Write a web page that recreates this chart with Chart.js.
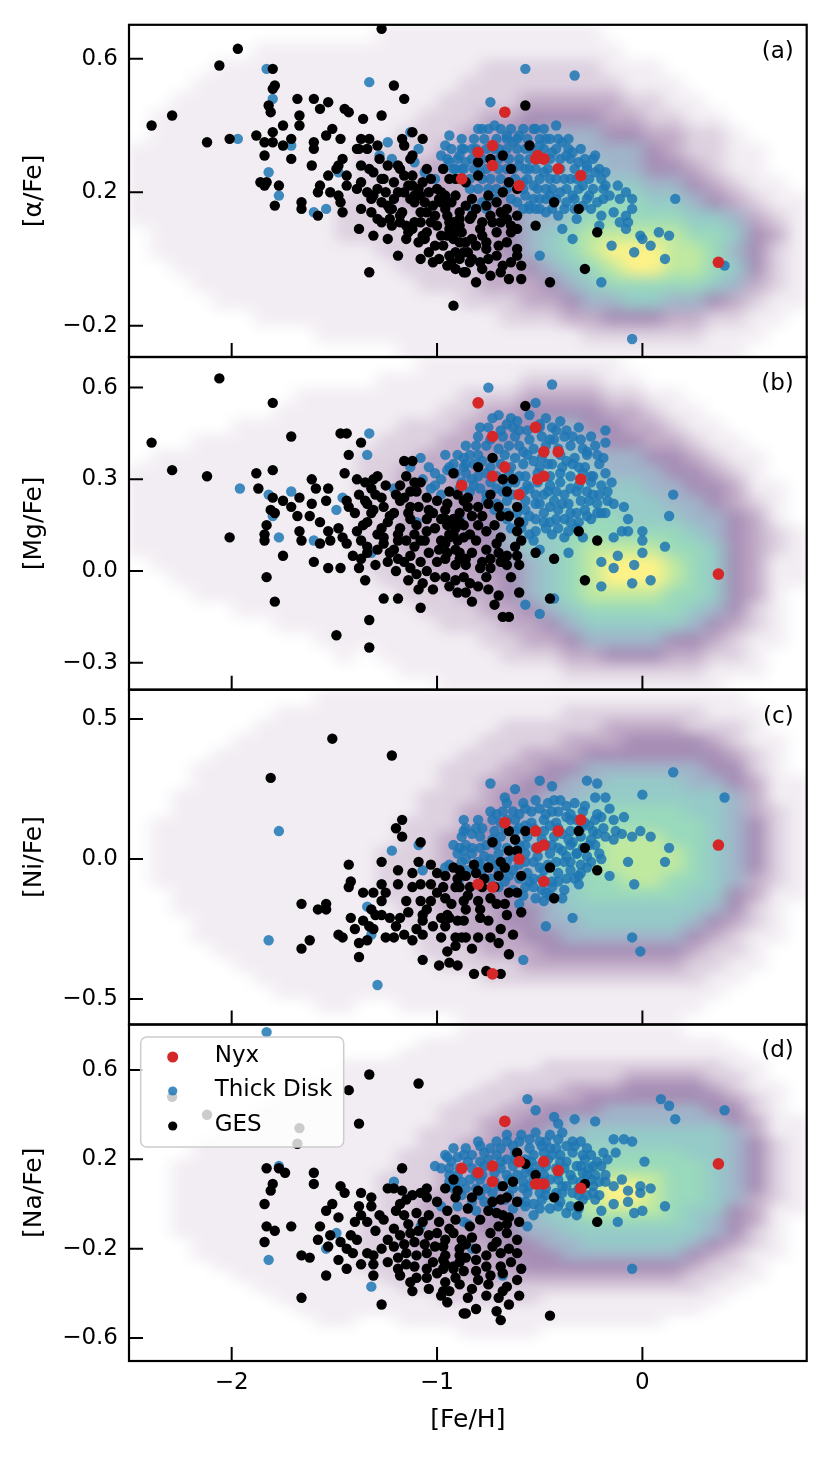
<!DOCTYPE html>
<html>
<head>
<meta charset="utf-8">
<title>Nyx, Thick Disk and GES abundances</title>
<script src="https://cdn.jsdelivr.net/npm/chart.js@4.4.1/dist/chart.umd.min.js"></script>
<style>
html,body{margin:0;padding:0;background:#fff;}
#wrap{position:relative;width:831px;height:1457px;overflow:hidden;}
#wrap canvas{position:absolute;left:0;top:0;}
</style>
</head>
<body>
<div id="wrap">
<canvas id="panelA" width="831" height="1457"></canvas>
<canvas id="panelB" width="831" height="1457"></canvas>
<canvas id="panelC" width="831" height="1457"></canvas>
<canvas id="panelD" width="831" height="1457"></canvas>
</div>
<script>
// ---------------- DATA ----------------
const feHTicks = [-2, -1, 0];
const alphaTicks = [0.6, 0.2, -0.2];
const mgTicks = [0.6, 0.3, 0.0, -0.3];
const niTicks = [0.5, 0.0, -0.5];
const naTicks = [0.6, 0.2, -0.2, -0.6];

const seriesNames = ['Nyx', 'Thick Disk', 'GES'];
const panelTags = ['(a)', '(b)', '(c)', '(d)'];
const yLabels = ['[α/Fe]', '[Mg/Fe]', '[Ni/Fe]', '[Na/Fe]'];

// Nyx stars (same stars in every panel)
const nyxFeH   = [-0.88, -0.80, -0.73, -0.73, -0.67, -0.60, -0.52, -0.51, -0.48, -0.48, -0.41, -0.30, 0.37];
const nyxAlpha = [0.24, 0.32, 0.34, 0.28, 0.44, 0.22, 0.30, 0.31, 0.30, 0.30, 0.27, 0.25, -0.01];
const nyxMg    = [0.28, 0.55, 0.44, 0.31, 0.34, 0.25, 0.47, 0.30, 0.39, 0.31, 0.39, 0.30, -0.01];
const nyxNi    = [null, -0.09, -0.10, -0.41, 0.13, 0.00, 0.10, 0.04, 0.05, -0.08, 0.10, 0.14, 0.05];
const nyxNa    = [0.16, 0.14, 0.17, 0.10, 0.37, 0.19, 0.09, 0.09, 0.19, 0.09, 0.15, 0.07, 0.18];

// GES stars [Fe/H, X/Fe] (isolated stars + stars in the crowded clump)
const gesAlpha = [[-1.27,0.69],[-1.97,0.63],[-2.06,0.58],[-1.80,0.57],[-1.79,0.52],[-1.80,0.51],[-1.82,0.46],[-1.81,0.44],[-2.29,0.43],[-2.39,0.40],[-2.12,0.35],[-2.01,0.36],[-1.88,0.37],[-1.84,0.35],[-1.80,0.35],[-1.80,0.38],[-1.75,0.40],[-1.75,0.34],[-1.71,0.36],[-1.71,0.30],[-1.84,0.31],[-1.68,0.48],[-1.60,0.48],[-1.53,0.47],[-1.57,0.45],[-1.67,0.43],[-1.67,0.40],[-1.51,0.39],[-1.54,0.37],[-1.47,0.36],[-1.45,0.45],[-1.43,0.44],[-1.36,0.42],[-1.27,0.43],[-1.21,0.52],[-1.16,0.48],[-1.12,0.38],[-1.07,0.36],[-1.60,0.35],[-1.60,0.33],[-1.61,0.28],[-1.86,0.23],[-1.84,0.22],[-1.83,0.23],[-1.77,0.22],[-1.79,0.16],[-1.66,0.17],[-1.66,0.15],[-1.58,0.20],[-1.58,0.13],[-1.57,0.22],[-1.53,0.25],[-1.52,0.20],[-1.48,0.19],[-1.48,0.28],[-1.46,0.30],[-1.44,0.25],[-1.44,0.22],[-1.47,0.17],[-1.46,0.14],[-1.37,0.36],[-1.38,0.33],[-1.33,0.36],[-1.29,0.34],[-1.37,0.28],[-1.37,0.23],[-1.33,0.27],[-1.28,0.30],[-1.27,0.24],[-1.24,0.28],[-1.19,0.28],[-1.17,0.36],[-1.16,0.34],[-1.13,0.30],[-1.12,0.31],[-1.12,0.25],[-1.07,0.23],[-1.39,0.21],[-1.34,0.20],[-1.31,0.19],[-1.27,0.17],[-1.21,0.18],[-1.16,0.20],[-1.11,0.17],[-1.08,0.19],[-1.37,0.15],[-1.32,0.14],[-1.29,0.12],[-1.27,0.11],[-1.23,0.15],[-1.18,0.13],[-1.15,0.10],[-1.11,0.11],[-1.08,0.11],[-1.05,0.14],[-1.02,0.16],[-0.98,0.17],[-0.95,0.13],[-0.92,0.11],[-0.89,0.14],[-0.89,0.10],[-0.95,0.07],[-0.92,0.06],[-0.88,0.08],[-1.38,0.09],[-1.31,0.07],[-1.24,0.06],[-1.09,0.05],[-1.19,0.01],[-1.08,0.00],[-1.02,-0.01],[-0.94,0.01],[-0.93,-0.01],[-0.91,0.02],[-0.87,0.02],[-0.87,-0.04],[-1.33,-0.04],[-0.92,-0.14],[-1.03,0.24],[-0.98,0.20],[-1.49,0.27],[-1.39,0.33],[-1.34,0.33],[-1.18,0.27],[-0.57,0.46],[-0.55,0.34],[-0.68,0.31],[-0.64,0.27],[-0.80,0.29],[-0.74,0.30],[-0.80,0.25],[-0.91,0.24],[-0.86,0.23],[-0.65,0.23],[-0.61,0.21],[-0.68,0.20],[-0.75,0.19],[-0.83,0.18],[-0.43,0.17],[-0.31,0.15],[-0.69,0.14],[-0.66,0.12],[-0.61,0.13],[-0.52,0.10],[-0.73,0.11],[-0.78,0.07],[-0.71,0.08],[-0.64,0.08],[-0.22,0.08],[-0.83,0.06],[-0.89,0.05],[-0.85,0.02],[-0.76,0.03],[-0.70,0.04],[-0.61,0.03],[-0.83,0.00],[-0.75,0.00],[-0.68,-0.02],[-0.61,0.01],[-0.78,-0.03],[-0.86,-0.04],[-0.81,-0.07],[-0.65,-0.06],[-0.59,-0.06],[-0.45,-0.07],[-0.28,-0.03],[-0.96,0.15],[-0.94,0.11],[-0.83,0.13],[-0.78,0.11],[-1.00,0.21],[-0.96,0.19],[-1.05,0.08],[-1.00,0.10],[-0.94,0.24],[-1.15,0.06],[-1.22,0.10],[-1.25,0.20],[-1.12,0.22],[-1.05,0.27],[-0.97,0.27],[-0.93,0.17]];
const gesAlphaClump = [[-1.31,0.26],[-1.29,0.21],[-1.32,0.18],[-1.26,0.24],[-1.24,0.16],[-1.23,0.12],[-1.21,0.23],[-1.19,0.20],[-1.22,0.15],[-1.18,0.11],[-1.16,0.25],[-1.14,0.22],[-1.13,0.18],[-1.17,0.14],[-1.14,0.08],[-1.09,0.21],[-1.11,0.19],[-1.08,0.14],[-1.12,0.09],[-1.07,0.07],[-1.04,0.20],[-1.06,0.17],[-1.03,0.11],[-1.06,0.06],[-1.04,0.02],[-0.99,0.18],[-1.01,0.13],[-0.98,0.07],[-1.01,0.04],[-0.99,0.00],[-0.96,0.17],[-0.94,0.09],[-0.97,0.04],[-0.95,-0.02],[-0.91,0.19],[-0.89,0.12],[-0.91,0.08],[-0.89,0.00],[-0.91,-0.03],[-0.86,0.16],[-0.84,0.12],[-0.86,0.05],[-0.84,-0.01],[-0.81,0.15],[-0.79,0.09],[-0.81,0.04],[-0.79,-0.01],[-0.76,0.16],[-0.74,0.13],[-0.76,0.05],[-0.74,-0.05],[-0.71,0.17],[-0.69,0.11],[-0.71,0.01],[-0.69,-0.04],[-0.66,0.15],[-0.64,0.10],[-0.66,0.05],[-0.64,-0.01],[-0.61,0.09],[-0.59,-0.02]];
const gesMg = [[-2.06,0.63],[-1.80,0.55],[-2.39,0.42],[-2.29,0.33],[-2.12,0.31],[-1.71,0.44],[-1.88,0.32],[-1.80,0.33],[-1.87,0.27],[-1.47,0.45],[-1.44,0.45],[-1.37,0.42],[-1.43,0.38],[-1.45,0.32],[-1.61,0.30],[-1.59,0.27],[-1.53,0.27],[-1.54,0.23],[-1.61,0.22],[-1.67,0.24],[-1.71,0.21],[-1.75,0.23],[-1.80,0.24],[-1.81,0.20],[-1.79,0.19],[-1.68,0.18],[-1.62,0.18],[-1.83,0.15],[-1.84,0.12],[-1.84,0.10],[-2.01,0.11],[-1.67,0.13],[-1.66,0.10],[-1.75,0.05],[-1.83,-0.02],[-1.79,-0.10],[-1.60,0.03],[-1.53,0.01],[-1.47,0.01],[-1.49,-0.21],[-1.33,-0.16],[-1.33,-0.25],[-1.35,-0.03],[-1.26,-0.09],[-1.19,-0.09],[-1.08,-0.12],[-1.02,-0.06],[-1.07,-0.04],[-0.91,-0.03],[-0.96,-0.02],[-0.90,-0.07],[-1.57,0.16],[-1.53,0.13],[-1.52,0.10],[-1.57,0.09],[-1.48,0.14],[-1.46,0.11],[-1.44,0.09],[-1.39,0.13],[-1.37,0.10],[-1.34,0.06],[-1.37,0.04],[-1.38,0.01],[-1.34,0.16],[-1.32,0.19],[-1.34,0.22],[-1.38,0.25],[-1.39,0.30],[-1.35,0.29],[-1.32,0.27],[-1.31,0.30],[-1.29,0.31],[-1.43,0.21],[-1.44,0.23],[-1.27,0.24],[-1.26,0.21],[-1.23,0.18],[-1.27,0.14],[-1.26,0.11],[-1.29,0.07],[-1.23,0.06],[-1.19,0.10],[-1.18,0.14],[-1.18,0.23],[-1.13,0.21],[-1.18,0.28],[-1.13,0.26],[-1.11,0.29],[-1.08,0.29],[-1.16,0.36],[-1.12,0.36],[-1.13,0.17],[-1.10,0.15],[-1.11,0.12],[-1.08,0.10],[-1.05,0.13],[-1.05,0.17],[-1.02,0.19],[-0.98,0.17],[-0.95,0.15],[-0.92,0.12],[-0.89,0.16],[-0.98,0.10],[-0.95,0.06],[-0.89,0.06],[-1.13,0.05],[-1.08,0.03],[-1.13,0.01],[-1.19,0.04],[-1.00,0.03],[-0.91,0.02],[-0.94,0.26],[-0.92,0.32],[-0.87,0.23],[-0.57,0.54],[-0.73,0.37],[-0.80,0.34],[-0.68,0.30],[-0.63,0.30],[-0.85,0.24],[-0.74,0.25],[-0.66,0.26],[-0.80,0.21],[-0.61,0.21],[-0.96,0.20],[-0.92,0.17],[-0.83,0.18],[-0.78,0.18],[-0.69,0.18],[-0.72,0.15],[-0.61,0.13],[-0.87,0.15],[-0.94,0.12],[-0.87,0.11],[-0.69,0.11],[-0.59,0.10],[-0.91,0.07],[-0.83,0.06],[-0.76,0.07],[-0.70,0.06],[-0.62,0.08],[-0.96,0.09],[-0.86,0.02],[-0.78,0.03],[-0.74,0.01],[-0.66,0.02],[-0.60,0.02],[-0.52,0.06],[-0.43,0.04],[-0.31,0.13],[-0.22,0.10],[-0.28,-0.03],[-0.45,-0.09],[-0.60,-0.07],[-0.86,-0.07],[-0.76,-0.02],[-0.83,-0.10],[-0.72,-0.11],[-0.68,-0.15],[-0.65,-0.15],[-0.87,-0.02]];
const gesMgClump = [[-1.40,0.19],[-1.41,0.05],[-1.35,0.23],[-1.36,0.15],[-1.34,0.08],[-1.30,0.25],[-1.31,0.20],[-1.29,0.12],[-1.30,0.02],[-1.25,0.28],[-1.24,0.16],[-1.26,0.09],[-1.24,0.03],[-1.20,0.25],[-1.21,0.19],[-1.19,0.12],[-1.21,0.07],[-1.20,0.00],[-1.15,0.31],[-1.16,0.24],[-1.14,0.19],[-1.15,0.10],[-1.16,0.03],[-1.14,-0.03],[-1.10,0.26],[-1.09,0.21],[-1.11,0.08],[-1.10,-0.01],[-1.09,-0.06],[-1.05,0.24],[-1.04,0.20],[-1.06,0.10],[-1.04,0.06],[-1.05,0.00],[-1.00,0.23],[-1.01,0.14],[-0.99,0.07],[-1.01,-0.02],[-0.95,0.22],[-0.96,0.17],[-0.94,0.11],[-0.96,0.04],[-0.94,-0.05],[-0.90,0.25],[-0.89,0.19],[-0.91,0.14],[-0.90,0.10],[-0.89,0.04],[-0.85,0.21],[-0.84,0.12],[-0.86,0.04],[-0.84,-0.04],[-0.80,0.15],[-0.81,0.10],[-0.79,0.01],[-0.80,-0.05],[-0.75,0.22],[-0.76,0.13],[-0.74,0.04],[-0.75,-0.06],[-0.70,0.21],[-0.71,0.09],[-0.69,0.03],[-0.70,-0.08],[-0.65,0.18],[-0.66,0.05],[-0.64,-0.02],[-0.60,0.16],[-0.61,0.05]];
const gesNi = [[-1.51,0.43],[-1.22,0.37],[-1.81,0.29],[-1.17,0.14],[-1.20,0.11],[-1.17,0.08],[-1.08,0.06],[-1.09,-0.01],[-1.03,-0.02],[-1.27,-0.01],[-1.43,-0.02],[-1.42,-0.08],[-1.43,-0.10],[-1.31,-0.12],[-1.27,-0.09],[-1.19,-0.04],[-1.19,-0.09],[-1.27,-0.15],[-1.12,-0.10],[-1.08,-0.09],[-1.03,-0.09],[-1.00,-0.12],[-0.96,-0.14],[-0.96,-0.06],[-0.92,-0.03],[-0.89,-0.04],[-0.89,-0.10],[-0.87,-0.15],[-1.08,-0.15],[-1.03,-0.15],[-1.66,-0.16],[-1.58,-0.18],[-1.54,-0.16],[-1.54,-0.18],[-1.42,-0.21],[-1.36,-0.22],[-1.33,-0.24],[-1.31,-0.25],[-1.34,-0.29],[-1.38,-0.30],[-1.27,-0.20],[-1.23,-0.21],[-1.18,-0.21],[-1.14,-0.19],[-1.07,-0.20],[-1.07,-0.22],[-0.98,-0.21],[-0.96,-0.24],[-0.90,-0.22],[-0.95,-0.20],[-1.10,-0.25],[-1.16,-0.27],[-1.21,-0.28],[-1.25,-0.28],[-1.12,-0.29],[-1.07,-0.27],[-0.88,-0.28],[-0.91,-0.31],[-1.48,-0.27],[-1.46,-0.28],[-1.62,-0.29],[-1.66,-0.32],[-1.38,-0.35],[-1.07,-0.36],[-0.99,-0.38],[-0.94,-0.37],[-0.90,-0.38],[-1.32,-0.18],[-0.65,0.10],[-0.57,0.10],[-0.31,0.10],[-0.28,0.04],[-0.22,-0.04],[-0.45,-0.03],[-0.73,0.06],[-0.62,0.07],[-0.65,0.03],[-0.61,0.03],[-0.69,-0.01],[-0.67,-0.03],[-0.59,-0.06],[-0.75,-0.03],[-0.81,-0.05],[-0.86,-0.06],[-0.70,-0.06],[-0.84,-0.10],[-0.78,-0.10],[-0.65,-0.12],[-0.61,-0.12],[-0.43,-0.14],[-0.74,-0.14],[-0.71,-0.16],[-0.67,-0.16],[-0.59,-0.19],[-0.91,-0.10],[-0.86,-0.18],[-0.79,-0.18],[-0.94,-0.21],[-0.87,-0.22],[-0.79,-0.21],[-0.69,-0.25],[-0.91,-0.28],[-0.86,-0.28],[-0.80,-0.28],[-0.74,-0.28],[-0.83,-0.32],[-0.65,-0.34],[-0.82,-0.41],[-0.76,-0.40],[-0.69,-0.41]];
const gesNiClump = [[-1.00,-0.05],[-0.97,-0.10],[-0.93,-0.16],[-0.90,-0.07],[-0.85,-0.13],[-0.82,-0.02],[-0.80,-0.15],[-0.77,-0.07],[-0.75,-0.22],[-0.72,-0.10],[-0.70,-0.30],[-0.66,-0.20],[-0.63,-0.27],[-0.98,-0.28],[-0.95,-0.33],[-1.02,-0.24],[-1.15,-0.15],[-1.20,-0.24],[-1.25,-0.12],[-1.12,-0.05],[-1.05,-0.18],[-1.30,-0.20],[-1.36,-0.12],[-1.40,-0.25]];
const gesNa = [[-2.29,0.48],[-2.12,0.40],[-1.67,0.34],[-1.68,0.27],[-1.33,0.58],[-1.09,0.54],[-1.43,0.51],[-1.38,0.36],[-1.83,0.16],[-1.77,0.16],[-1.74,0.14],[-1.60,0.14],[-1.60,0.09],[-1.80,0.09],[-1.81,0.06],[-1.84,0.00],[-1.83,-0.10],[-1.79,-0.12],[-1.71,-0.10],[-1.84,-0.17],[-1.66,-0.23],[-1.62,-0.24],[-1.66,-0.42],[-1.27,-0.45],[-1.54,-0.32],[-1.53,-0.19],[-1.58,-0.16],[-1.57,-0.10],[-1.54,-0.03],[-1.51,0.00],[-1.48,-0.06],[-1.47,0.08],[-1.45,0.05],[-1.37,0.05],[-1.32,0.03],[-1.32,-0.01],[-1.38,-0.01],[-1.37,-0.05],[-1.34,-0.08],[-1.28,-0.05],[-1.26,-0.07],[-1.24,0.07],[-1.21,0.07],[-1.17,0.06],[-1.17,0.16],[-1.18,0.00],[-1.16,-0.05],[-1.12,0.04],[-1.08,0.05],[-1.05,0.03],[-1.07,-0.08],[-1.04,-0.14],[-1.00,-0.13],[-0.96,-0.16],[-0.92,-0.13],[-0.96,0.07],[-0.92,0.11],[-0.91,0.03],[-0.91,-0.07],[-0.88,-0.16],[-1.52,-0.14],[-1.47,-0.17],[-1.44,-0.20],[-1.39,-0.16],[-1.34,-0.22],[-1.31,-0.23],[-1.27,-0.20],[-1.24,-0.16],[-1.21,-0.11],[-1.18,-0.14],[-1.13,-0.13],[-1.11,-0.17],[-1.15,-0.22],[-1.10,-0.23],[-1.05,-0.22],[-1.02,-0.26],[-0.97,-0.25],[-0.92,-0.29],[-0.89,-0.26],[-1.19,-0.29],[-1.24,-0.26],[-1.18,-0.32],[-1.13,-0.35],[-1.10,-0.33],[-1.12,-0.39],[-1.05,-0.33],[-0.98,-0.41],[-0.94,-0.39],[-0.87,-0.49],[-1.44,-0.29],[-1.37,-0.27],[-1.31,-0.32],[-1.48,-0.25],[-1.42,-0.14],[-0.61,0.23],[-0.59,0.19],[-0.52,0.13],[-0.68,0.08],[-0.63,0.10],[-0.43,0.03],[-0.28,0.09],[-0.31,-0.01],[-0.22,-0.08],[-0.83,0.03],[-0.73,0.01],[-0.69,0.02],[-0.66,0.03],[-0.61,0.01],[-0.71,-0.04],[-0.68,-0.05],[-0.65,-0.06],[-0.66,-0.09],[-0.66,-0.13],[-0.61,-0.16],[-0.83,-0.15],[-0.86,-0.18],[-0.73,-0.19],[-0.69,-0.22],[-0.97,-0.19],[-0.96,-0.23],[-0.89,-0.23],[-0.81,-0.25],[-0.76,-0.28],[-0.92,-0.28],[-0.97,-0.29],[-0.87,-0.30],[-0.81,-0.30],[-0.74,-0.32],[-0.68,-0.31],[-0.61,-0.34],[-0.96,-0.35],[-0.89,-0.36],[-0.83,-0.38],[-0.76,-0.41],[-0.70,-0.42],[-0.68,-0.39],[-0.60,-0.41],[-0.65,-0.45],[-0.97,-0.39],[-0.81,-0.47],[-0.86,-0.49],[-0.71,-0.48],[-0.69,-0.52],[-0.45,-0.50],[-0.57,0.18]];
const gesNaClump = [[-1.20,-0.03],[-1.21,-0.19],[-1.19,-0.24],[-1.15,0.02],[-1.14,-0.09],[-1.16,-0.18],[-1.15,-0.27],[-1.10,-0.04],[-1.09,-0.12],[-1.11,-0.28],[-1.05,0.07],[-1.04,-0.05],[-1.06,-0.18],[-1.05,-0.29],[-1.04,-0.38],[-1.00,0.01],[-0.99,-0.08],[-1.01,-0.19],[-1.00,-0.31],[-0.95,-0.03],[-0.94,-0.11],[-0.96,-0.27],[-0.95,-0.44],[-0.90,0.06],[-0.89,-0.20],[-0.91,-0.33],[-0.85,-0.02],[-0.84,-0.10],[-0.86,-0.24],[-0.85,-0.42],[-0.80,0.06],[-0.79,-0.07],[-0.81,-0.20],[-0.80,-0.34],[-0.75,-0.03],[-0.74,-0.13],[-0.76,-0.23],[-0.75,-0.36],[-0.70,-0.10],[-0.71,-0.17],[-0.69,-0.28],[-0.65,-0.20],[-0.64,-0.26],[-0.66,-0.37],[-0.60,-0.08],[-0.61,-0.22],[-0.59,-0.29],[-1.30,-0.12],[-1.31,-0.27],[-1.40,-0.08],[-1.41,-0.22]];

// Thick Disk stars [Fe/H, X/Fe] (isolated stars + stars in the crowded clump)
const diskAlpha = [[-1.83,0.57],[-1.33,0.53],[-1.80,0.48],[-1.97,0.36],[-1.71,0.34],[-1.82,0.26],[-1.77,0.19],[-1.60,0.14],[-1.54,0.15],[-1.34,0.33],[-1.28,0.31],[-1.24,0.35],[-1.22,0.30],[-1.13,0.38],[-1.09,0.33],[-1.11,0.29],[-1.06,0.26],[-1.01,0.24],[-0.98,0.31],[-0.94,0.37],[-0.96,0.34],[-0.94,0.29],[-0.91,0.27],[-0.87,0.33],[-0.87,0.27],[-1.48,0.26],[-0.57,0.57],[-0.33,0.55],[-0.74,0.47],[-0.42,0.40],[-0.78,0.39],[-0.72,0.40],[-0.66,0.37],[-0.60,0.37],[-0.52,0.39],[-0.47,0.36],[-0.39,0.35],[-0.34,0.32],[-0.23,0.31],[-0.27,0.28],[-0.23,0.26],[-0.18,0.22],[-0.16,0.19],[-0.11,0.18],[-0.05,0.18],[0.16,0.18],[-0.14,0.14],[-0.08,0.13],[-0.07,0.11],[-0.20,0.13],[-0.21,0.10],[-0.32,0.12],[-0.39,0.09],[-0.34,0.06],[-0.41,0.13],[-0.50,0.15],[-0.55,0.16],[-0.78,0.17],[-0.83,0.15],[-0.01,0.07],[0.00,0.06],[0.08,0.08],[0.13,0.07],[0.04,0.04],[-0.15,0.04],[-0.04,0.02],[0.11,0.00],[-0.50,0.01],[-0.20,-0.07],[-0.05,-0.24],[0.40,-0.02],[-0.70,0.33],[-0.63,0.35],[-0.57,0.33],[-0.50,0.34],[-0.44,0.32],[-0.37,0.31],[-0.31,0.29],[-0.66,0.27],[-0.60,0.28],[-0.55,0.27],[-0.48,0.26],[-0.42,0.24],[-0.35,0.24],[-0.29,0.22],[-0.58,0.23],[-0.53,0.22],[-0.47,0.21],[-0.40,0.20],[-0.34,0.19],[-0.26,0.19],[-0.57,0.19],[-0.50,0.18],[-0.45,0.19],[-0.37,0.17],[-0.29,0.16],[-0.22,0.17],[-0.61,0.17],[-0.55,0.15],[-0.47,0.14],[-0.79,0.26],[-0.86,0.29],[-0.89,0.31],[-0.83,0.33],[-0.74,0.24],[-0.71,0.21],[-0.84,0.21],[-0.92,0.27],[-0.76,0.15],[-0.05,0.15],[-0.11,0.11],[-0.08,0.09]];
const diskAlphaClump = [[-0.80,0.39],[-0.75,0.39],[-0.69,0.39],[-0.64,0.39],[-0.58,0.39],[-0.53,0.39],[-0.48,0.39],[-0.88,0.36],[-0.82,0.36],[-0.77,0.36],[-0.71,0.36],[-0.66,0.36],[-0.61,0.36],[-0.56,0.36],[-0.50,0.36],[-0.45,0.36],[-0.41,0.36],[-0.36,0.36],[-0.93,0.33],[-0.88,0.33],[-0.81,0.33],[-0.76,0.33],[-0.72,0.33],[-0.66,0.33],[-0.61,0.33],[-0.54,0.33],[-0.48,0.33],[-0.42,0.33],[-0.36,0.33],[-0.30,0.33],[-0.95,0.30],[-0.90,0.30],[-0.83,0.30],[-0.78,0.30],[-0.70,0.30],[-0.65,0.30],[-0.60,0.30],[-0.55,0.30],[-0.50,0.30],[-0.45,0.30],[-0.40,0.30],[-0.35,0.30],[-0.28,0.30],[-0.24,0.30],[-0.97,0.27],[-0.88,0.27],[-0.82,0.27],[-0.76,0.27],[-0.70,0.27],[-0.63,0.27],[-0.57,0.27],[-0.52,0.27],[-0.46,0.27],[-0.40,0.27],[-0.33,0.27],[-0.27,0.27],[-0.21,0.27],[-0.90,0.24],[-0.84,0.24],[-0.78,0.24],[-0.69,0.24],[-0.62,0.24],[-0.56,0.24],[-0.50,0.24],[-0.45,0.24],[-0.38,0.24],[-0.32,0.24],[-0.26,0.24],[-0.20,0.24],[-0.80,0.21],[-0.75,0.21],[-0.66,0.21],[-0.58,0.21],[-0.51,0.21],[-0.44,0.21],[-0.37,0.21],[-0.31,0.21],[-0.24,0.21],[-0.19,0.21],[-0.72,0.18],[-0.64,0.18],[-0.53,0.18],[-0.47,0.18],[-0.42,0.18],[-0.33,0.18],[-0.27,0.18],[-0.19,0.18],[-0.58,0.15],[-0.52,0.15],[-0.44,0.15],[-0.38,0.15],[-0.33,0.15],[-0.25,0.15],[-0.18,0.26],[-0.12,0.22],[-0.08,0.20]];
const diskMg = [[-1.33,0.45],[-1.34,0.38],[-1.96,0.27],[-1.82,0.25],[-1.71,0.26],[-1.80,0.18],[-1.77,0.11],[-1.60,0.10],[-1.49,0.20],[-1.46,0.24],[-1.32,0.06],[-1.21,0.27],[-1.13,0.34],[-1.07,0.30],[-1.01,0.32],[-1.01,0.28],[-0.98,0.25],[-0.96,0.38],[-0.94,0.34],[-0.87,0.37],[-0.87,0.34],[-0.89,0.17],[-1.10,0.16],[-0.75,0.60],[-0.44,0.61],[-0.52,0.55],[-0.18,0.46],[-0.18,0.42],[0.15,0.25],[0.13,0.18],[0.11,0.08],[0.04,-0.03],[-0.05,-0.04],[-0.20,-0.05],[-0.04,0.02],[-0.14,0.01],[-0.20,0.03],[-0.12,0.05],[0.00,0.06],[0.00,0.10],[0.00,0.13],[-0.07,0.13],[-0.14,0.11],[-0.10,0.13],[-0.07,0.17],[-0.09,0.21],[-0.18,0.19],[-0.14,0.22],[-0.29,0.11],[-0.36,0.06],[-0.43,-0.09],[-0.57,-0.11],[-0.50,-0.14],[-0.22,0.19],[-0.27,0.18],[-0.32,0.14],[-0.41,0.14],[-0.38,0.11],[-0.50,0.07],[-0.53,0.10],[-0.58,0.16],[-0.79,0.47],[-0.66,0.48],[-0.60,0.46],[-0.45,0.43],[-0.34,0.44],[-0.27,0.39],[-0.22,0.38],[-0.65,0.41],[-0.58,0.39],[-0.53,0.36],[-0.44,0.35],[-0.37,0.36],[-0.31,0.34],[-0.24,0.31],[-0.84,0.38],[-0.86,0.35],[-0.78,0.36],[-0.60,0.31],[-0.55,0.27],[-0.48,0.25],[-0.42,0.26],[-0.35,0.27],[-0.27,0.26],[-0.21,0.25],[-0.52,0.22],[-0.45,0.21],[-0.39,0.22],[-0.32,0.19],[-0.55,0.18],[-0.48,0.16],[-0.42,0.17],[-0.35,0.16],[-0.66,0.23],[-0.71,0.27],[-0.79,0.27],[-0.83,0.30],[-0.89,0.27],[-0.81,0.41],[-0.73,0.50],[-0.61,0.49],[-0.50,0.48],[-0.42,0.46],[-0.64,0.14],[-0.55,0.12],[-0.61,0.19],[-0.26,0.23]];
const diskMgClump = [[-0.70,0.51],[-0.64,0.50],[-0.55,0.51],[-0.47,0.50],[-0.40,0.49],[-0.75,0.47],[-0.69,0.46],[-0.63,0.47],[-0.56,0.46],[-0.50,0.47],[-0.44,0.47],[-0.37,0.46],[-0.31,0.47],[-0.80,0.44],[-0.74,0.43],[-0.68,0.44],[-0.62,0.44],[-0.55,0.43],[-0.49,0.44],[-0.43,0.43],[-0.38,0.44],[-0.30,0.43],[-0.25,0.44],[-0.86,0.41],[-0.76,0.41],[-0.70,0.40],[-0.60,0.41],[-0.53,0.40],[-0.47,0.41],[-0.41,0.40],[-0.35,0.41],[-0.29,0.40],[-0.23,0.41],[-0.90,0.38],[-0.80,0.38],[-0.73,0.37],[-0.67,0.38],[-0.62,0.37],[-0.56,0.38],[-0.49,0.37],[-0.40,0.38],[-0.33,0.37],[-0.27,0.38],[-0.19,0.37],[-0.92,0.35],[-0.82,0.35],[-0.74,0.34],[-0.69,0.35],[-0.64,0.34],[-0.58,0.35],[-0.50,0.34],[-0.46,0.35],[-0.39,0.34],[-0.34,0.35],[-0.28,0.34],[-0.21,0.35],[-0.91,0.32],[-0.86,0.32],[-0.80,0.31],[-0.76,0.32],[-0.71,0.31],[-0.65,0.32],[-0.57,0.31],[-0.51,0.32],[-0.45,0.31],[-0.40,0.32],[-0.35,0.31],[-0.29,0.32],[-0.25,0.31],[-0.18,0.32],[-0.88,0.29],[-0.82,0.28],[-0.74,0.29],[-0.66,0.28],[-0.62,0.29],[-0.56,0.28],[-0.51,0.29],[-0.45,0.28],[-0.40,0.29],[-0.31,0.28],[-0.25,0.29],[-0.20,0.28],[-0.15,0.29],[-0.84,0.26],[-0.76,0.25],[-0.68,0.26],[-0.63,0.25],[-0.58,0.26],[-0.52,0.25],[-0.46,0.26],[-0.38,0.25],[-0.32,0.26],[-0.24,0.25],[-0.17,0.26],[-0.76,0.23],[-0.71,0.22],[-0.57,0.23],[-0.50,0.22],[-0.43,0.23],[-0.36,0.22],[-0.30,0.23],[-0.22,0.22],[-0.17,0.23],[-0.72,0.20],[-0.66,0.19],[-0.57,0.20],[-0.48,0.19],[-0.41,0.20],[-0.35,0.19],[-0.28,0.20],[-0.20,0.19],[-0.66,0.17],[-0.60,0.16],[-0.52,0.17],[-0.45,0.16],[-0.38,0.17],[-0.31,0.16],[-0.25,0.17],[-0.59,0.14],[-0.52,0.13],[-0.47,0.14],[-0.44,0.12],[-0.36,0.13],[-1.08,0.37],[-1.04,0.34],[-0.98,0.30],[-1.03,0.27],[-0.95,0.33]];
const diskNi = [[-1.77,0.10],[-1.82,-0.29],[-1.29,-0.45],[-1.22,0.03],[-1.34,-0.17],[-1.07,-0.04],[-1.09,0.05],[-0.96,-0.03],[-0.87,0.14],[-0.87,0.10],[-0.87,0.03],[-0.89,-0.07],[-1.32,-0.27],[-0.74,0.27],[-0.50,0.28],[-0.27,0.28],[-0.22,0.27],[-0.44,0.26],[-0.62,0.25],[0.15,0.31],[0.40,0.22],[0.00,0.23],[-0.23,0.22],[-0.18,0.22],[-0.67,0.22],[-0.43,0.21],[-0.37,0.19],[-0.28,0.19],[-0.16,0.18],[-0.09,0.15],[-0.20,0.15],[-0.14,0.14],[-0.13,0.10],[-0.10,0.09],[-0.01,0.10],[0.04,0.08],[-0.05,0.08],[-0.14,0.07],[0.13,0.04],[-0.07,-0.01],[0.11,-0.01],[-0.04,-0.09],[-0.16,-0.06],[-0.31,-0.09],[-0.27,-0.03],[-0.20,0.00],[-0.34,-0.21],[-0.47,-0.24],[-0.58,-0.36],[-0.05,-0.28],[-0.01,-0.33],[-0.60,-0.16],[-0.48,-0.15],[-0.83,0.09],[-0.78,0.11],[-0.71,0.16],[-0.63,0.17],[-0.57,0.18],[-0.50,0.18],[-0.44,0.17],[-0.37,0.15],[-0.32,0.14],[-0.26,0.12],[-0.22,0.09],[-0.83,0.04],[-0.76,0.05],[-0.57,0.12],[-0.45,0.12],[-0.39,0.09],[-0.34,0.06],[-0.26,0.05],[-0.57,0.05],[-0.44,0.05],[-0.39,0.03],[-0.32,0.02],[-0.57,-0.01],[-0.50,-0.03],[-0.42,-0.01],[-0.35,-0.01],[-0.53,-0.07],[-0.44,-0.08],[-0.37,-0.07],[-0.31,-0.06],[-0.74,0.00],[-0.86,0.00],[-0.65,-0.06],[-0.79,-0.02],[-0.53,-0.10],[-0.47,-0.12],[-0.66,0.14],[-0.60,0.11],[-0.89,0.04],[-0.94,-0.02]];
const diskNiClump = [[-0.66,0.20],[-0.58,0.20],[-0.52,0.21],[-0.46,0.20],[-0.40,0.21],[-0.33,0.20],[-0.74,0.17],[-0.68,0.17],[-0.60,0.16],[-0.54,0.17],[-0.47,0.16],[-0.41,0.17],[-0.35,0.16],[-0.29,0.17],[-0.22,0.16],[-0.80,0.14],[-0.73,0.14],[-0.69,0.13],[-0.62,0.14],[-0.54,0.13],[-0.48,0.14],[-0.42,0.13],[-0.35,0.14],[-0.28,0.13],[-0.23,0.14],[-0.86,0.11],[-0.81,0.11],[-0.72,0.10],[-0.67,0.11],[-0.62,0.10],[-0.53,0.11],[-0.48,0.10],[-0.41,0.11],[-0.35,0.10],[-0.30,0.11],[-0.24,0.10],[-0.19,0.11],[-0.88,0.08],[-0.79,0.08],[-0.73,0.07],[-0.69,0.08],[-0.62,0.07],[-0.56,0.08],[-0.49,0.07],[-0.43,0.08],[-0.36,0.07],[-0.30,0.08],[-0.25,0.07],[-0.18,0.08],[-0.92,0.05],[-0.86,0.05],[-0.79,0.04],[-0.71,0.05],[-0.66,0.04],[-0.60,0.05],[-0.52,0.04],[-0.47,0.05],[-0.41,0.04],[-0.35,0.05],[-0.29,0.04],[-0.23,0.05],[-0.90,0.02],[-0.83,0.02],[-0.77,0.01],[-0.70,0.02],[-0.63,0.01],[-0.57,0.02],[-0.51,0.01],[-0.45,0.02],[-0.37,0.01],[-0.32,0.02],[-0.27,0.01],[-0.21,0.02],[-0.88,-0.01],[-0.80,-0.01],[-0.71,-0.02],[-0.66,-0.01],[-0.60,-0.02],[-0.53,-0.01],[-0.46,-0.02],[-0.38,-0.01],[-0.30,-0.02],[-0.25,-0.01],[-0.85,-0.04],[-0.78,-0.04],[-0.70,-0.05],[-0.63,-0.04],[-0.56,-0.05],[-0.48,-0.04],[-0.41,-0.05],[-0.35,-0.04],[-0.30,-0.05],[-0.74,-0.07],[-0.67,-0.08],[-0.60,-0.07],[-0.55,-0.08],[-0.49,-0.07],[-0.41,-0.08],[-0.33,-0.07],[-0.70,-0.10],[-0.63,-0.11],[-0.57,-0.10],[-0.49,-0.11],[-0.44,-0.10],[-0.38,-0.11],[-0.58,-0.13],[-0.52,-0.14],[-0.45,-0.13],[-0.39,-0.14]];
const diskNa = [[-1.83,0.77],[-1.82,-0.25],[-1.32,-0.37],[-1.54,-0.20],[-1.49,-0.13],[-1.21,0.10],[-1.12,0.04],[-1.01,0.17],[-0.95,0.21],[-0.90,0.21],[-0.94,0.16],[-0.98,-0.01],[-0.90,-0.01],[-0.87,-0.08],[-1.08,-0.10],[-0.91,0.08],[-1.77,0.17],[-0.56,0.47],[-0.52,0.42],[-0.43,0.39],[-0.41,0.36],[-0.33,0.38],[-0.23,0.37],[0.09,0.47],[0.13,0.44],[0.16,0.38],[0.40,0.42],[-0.14,0.29],[-0.09,0.29],[-0.05,0.28],[-0.13,0.23],[0.01,0.19],[-0.10,0.11],[-0.01,0.08],[0.04,0.07],[-0.07,0.06],[-0.14,0.00],[-0.07,0.01],[-0.01,0.05],[0.11,-0.01],[-0.04,-0.04],[0.00,-0.03],[-0.20,-0.03],[-0.12,-0.08],[-0.05,-0.29],[-0.23,0.02],[-0.37,-0.04],[-0.32,-0.05],[-0.56,-0.10],[-0.83,-0.20],[-0.68,-0.32],[-0.85,-0.09],[-0.81,-0.03],[-0.83,0.22],[-0.74,0.25],[-0.66,0.28],[-0.60,0.28],[-0.50,0.28],[-0.45,0.25],[-0.37,0.26],[-0.34,0.28],[-0.29,0.22],[-0.24,0.17],[-0.18,0.13],[-0.21,0.10],[-0.14,0.08],[-0.66,0.20],[-0.57,0.20],[-0.44,0.22],[-0.37,0.19],[-0.32,0.17],[-0.27,0.13],[-0.34,0.11],[-0.39,0.08],[-0.45,0.11],[-0.57,0.14],[-0.61,0.13],[-0.78,0.13],[-0.84,0.11],[-0.86,0.07],[-0.76,0.07],[-0.58,0.07],[-0.50,0.05],[-0.42,0.05],[-0.34,0.05],[-0.27,0.04],[-0.21,0.04],[-0.60,0.01],[-0.53,0.00],[-0.45,-0.02],[-0.35,-0.01],[-0.53,-0.05],[-0.73,0.17],[-0.79,0.19],[-0.89,0.16],[-0.94,0.13],[-0.50,0.17],[-0.42,0.16]];
const diskNaClump = [[-0.66,0.31],[-0.59,0.31],[-0.52,0.32],[-0.45,0.31],[-0.39,0.32],[-0.80,0.28],[-0.71,0.28],[-0.55,0.29],[-0.47,0.28],[-0.41,0.29],[-0.30,0.28],[-0.92,0.25],[-0.86,0.25],[-0.79,0.26],[-0.69,0.25],[-0.63,0.26],[-0.55,0.25],[-0.49,0.26],[-0.42,0.25],[-0.33,0.26],[-0.27,0.25],[-0.96,0.22],[-0.87,0.22],[-0.77,0.23],[-0.71,0.22],[-0.62,0.23],[-0.53,0.22],[-0.48,0.23],[-0.40,0.22],[-0.34,0.23],[-0.25,0.22],[-0.19,0.23],[-0.93,0.19],[-0.85,0.19],[-0.75,0.20],[-0.69,0.19],[-0.62,0.20],[-0.54,0.19],[-0.46,0.20],[-0.40,0.19],[-0.28,0.20],[-0.22,0.19],[-0.17,0.20],[-0.98,0.16],[-0.83,0.16],[-0.77,0.17],[-0.69,0.16],[-0.63,0.17],[-0.55,0.16],[-0.47,0.17],[-0.38,0.16],[-0.30,0.17],[-0.26,0.16],[-0.20,0.17],[-0.90,0.13],[-0.81,0.13],[-0.72,0.14],[-0.66,0.13],[-0.53,0.14],[-0.48,0.13],[-0.41,0.14],[-0.35,0.13],[-0.29,0.14],[-0.23,0.13],[-0.94,0.10],[-0.88,0.10],[-0.79,0.11],[-0.72,0.10],[-0.65,0.11],[-0.58,0.10],[-0.53,0.11],[-0.48,0.10],[-0.41,0.11],[-0.30,0.10],[-0.25,0.11],[-0.18,0.10],[-0.92,0.07],[-0.81,0.07],[-0.70,0.08],[-0.63,0.07],[-0.55,0.08],[-0.47,0.07],[-0.37,0.08],[-0.31,0.07],[-0.24,0.08],[-0.88,0.04],[-0.79,0.04],[-0.73,0.05],[-0.65,0.04],[-0.56,0.05],[-0.47,0.04],[-0.39,0.05],[-0.31,0.04],[-0.24,0.05],[-0.83,0.01],[-0.77,0.01],[-0.67,0.02],[-0.57,0.01],[-0.49,0.02],[-0.40,0.01],[-0.29,0.02],[-0.74,-0.02],[-0.63,-0.02],[-0.57,-0.01],[-0.50,-0.02],[-0.41,-0.01],[-0.31,-0.02]];

// Background field-star density (levels 0-9), cells of 0.1 dex in [Fe/H] from -2.5
// and 0.05 dex in [X/Fe], rows from the top value downwards.
const densityFeHStart = -2.5, densityFeHStep = 0.1, densityYStep = 0.05;
const densityTop = [0.7, 0.7, 0.6, 0.8];
const densityAlpha = [
"00000000000 01111111111 10000000000",
"00000011111 11111111111 11000000000",
"00001111111 11111122222 21110000000",
"00011111111 11111222222 22111000000",
"00111111111 11112222333 33221100000",
"01111111111 11122233444 43322110000",
"01111111111 11222334455 54433221000",
"11111111111 22223344555 55543221100",
"11111111111 22233344555 65544321100",
"11111111111 22333344556 66655432110",
"11111111112 22333344556 77766543211",
"11111111112 22233334556 77777665321",
"01111111112 22223334567 88888776431",
"01111111111 12222334567 89998875421",
"00111111111 11222233456 78998876421",
"00011111111 11122233345 67777765321",
"00001111111 11111222334 55665543211",
"00000011111 11111112223 34443322110",
"00000000011 11111111111 22222211100",
"00000000000 00111111111 11111111000"];
const densityMg = [
"00000000000 00011111111 11000000000",
"00000000000 01111111222 21100000000",
"00000000111 11111222333 32211000000",
"00000001111 11112233444 43321100000",
"00000111111 11222334455 44332110000",
"00011111111 12223344555 54433211000",
"01111111111 22233345556 55544321100",
"11111111111 22333445566 65554432100",
"11111111111 22333445566 66655443110",
"11111111111 22333445566 66665543210",
"11111111111 22333445566 77666554310",
"11111111111 22333445667 77777654321",
"11111111111 22333345667 88887764321",
"01111111111 22233344567 89998764311",
"00111111111 12223334567 89998764311",
"00011111111 11222334567 88887764310",
"00000111111 11122233456 77777654210",
"00000001111 11112223345 66666543210",
"00000000011 11111122334 55554432110",
"00000000001 01111112223 34443322100",
"00000000000 00111111112 22222211100",
"00000000000 00001111111 11111110000"];
const densityNi = [
"00000000011 11111111111 11111111000",
"00000001111 11111111112 22222211100",
"00000011111 11111112222 23333222100",
"00000111111 11111122223 33444432110",
"00001111111 11111222333 44444443210",
"00011111111 11112223344 55555544210",
"00011111111 11112233445 56666554311",
"00111111111 11122234455 66666665311",
"00111111111 11122334556 67777665321",
"01111111111 11222344566 77777765421",
"01111111111 11223345567 78887765421",
"01111111111 12223345567 78888765421",
"01111111111 12223344567 78888765421",
"01111111111 12223344566 77887765321",
"00111111111 12223344556 77777664311",
"00111111111 11223334456 66666654210",
"00011111111 11222334455 66666543210",
"00011111111 11122333445 55555432110",
"00001111111 11122233344 44444322100",
"00000111111 11112222333 33333221100",
"00000011111 11111122222 22222211000",
"00000001111 11111111111 11111110000",
"00000000011 00111111111 11111100000",
"00000000000 00000111111 11111000000"];
const densityNa = [
"00000000000 00000111111 11111000000",
"00000000000 00011111111 11111110000",
"00000000000 00111111111 11111111000",
"00000000001 11111111122 22222221100",
"00000000011 11111112222 22333322100",
"00000000111 11111122223 33444432110",
"00000001111 11111222333 44444443210",
"00000011111 11112223344 45555544210",
"00000111111 11112233445 55555554311",
"00001111111 11122234455 66666665311",
"00011111111 11122334556 66666665421",
"00011111111 11222344566 77777665421",
"00111111111 11223345567 77777765421",
"00111111111 12223345567 78887765421",
"00111111111 12223345567 89987765421",
"00111111111 12233344567 89987765321",
"00111111111 12233344567 88887664311",
"00111111111 22233344566 77777654310",
"00111111111 22333344556 66666654210",
"00011111111 22333334455 66666543210",
"00011111111 22233334445 55555432110",
"00001111111 22233333444 44444322100",
"00000111111 12222333333 33333221100",
"00000011111 11222222222 22222211000",
"00000001111 11112222211 11111110000",
"00000000111 11111111111 11111100000",
"00000000011 00111111111 11110000000",
"00000000000 00000111100 00000000000",
"00000000000 00000000000 00000000000",
"00000000000 00000000000 00000000000"];

// ---------------- STYLE ----------------
const FONT = "'DejaVu Sans', 'Liberation Sans', sans-serif";
Chart.defaults.font.family = FONT;
Chart.defaults.color = '#000';
const COLORS = { nyx: '#d62728', disk: 'rgba(31,119,180,0.85)', ges: '#000000' };
const viridisStops = [[68,1,84],[72,36,117],[65,68,135],[53,95,141],[42,120,142],[33,145,140],[34,168,132],[68,191,112],[122,209,81],[189,223,38],[253,231,37]];
const levelStyle = [null,[0,0.07],[0,0.18],[0,0.33],[0.05,0.48],[0.30,0.47],[0.50,0.48],[0.65,0.50],[0.82,0.52],[1.0,0.55]];

function viridis(t) {
  const n = viridisStops.length - 1;
  const f = Math.max(0, Math.min(1, t)) * n;
  const i = Math.min(n - 1, Math.floor(f)), u = f - i;
  const a = viridisStops[i], b = viridisStops[i + 1];
  return a.map((v, k) => Math.round(v + (b[k] - v) * u));
}
function makeDensityImage(rows) {
  const grid = rows.map(r => r.replace(/\s/g, ''));
  const h = grid.length, w = Math.max(...grid.map(r => r.length));
  const off = document.createElement('canvas');
  off.width = w; off.height = h;
  const octx = off.getContext('2d');
  const img = octx.createImageData(w, h);
  for (let r = 0; r < h; r++) for (let c = 0; c < w; c++) {
    const lv = +(grid[r][c] || 0), k = (r * w + c) * 4;
    if (!lv) { img.data[k + 3] = 0; continue; }
    const [t, al] = levelStyle[lv], col = viridis(t);
    img.data[k] = col[0]; img.data[k + 1] = col[1]; img.data[k + 2] = col[2];
    img.data[k + 3] = Math.round(al * 255);
  }
  octx.putImageData(img, 0, 0);
  return { canvas: off, w, h };
}
const fmt = (v, d) => { const s = (Math.abs(v) < 1e-9 ? 0 : v).toFixed(d); return s.replace('-', '\u2212'); };
const toPts = arr => arr.map(([x, y]) => ({ x, y }));
const nyxPts = ys => nyxFeH.map((x, i) => ({ x, y: ys[i] })).filter(p => p.y !== null);

function roundRectPath(ctx, x, y, w, h, r) {
  ctx.beginPath();
  ctx.moveTo(x + r, y); ctx.lineTo(x + w - r, y); ctx.arcTo(x + w, y, x + w, y + r, r);
  ctx.lineTo(x + w, y + h - r); ctx.arcTo(x + w, y + h, x + w - r, y + h, r);
  ctx.lineTo(x + r, y + h); ctx.arcTo(x, y + h, x, y + h - r, r);
  ctx.lineTo(x, y + r); ctx.arcTo(x, y, x + r, y, r); ctx.closePath();
}

const panels = [
  { id: 'panelA', nyx: nyxAlpha, ges: gesAlpha.concat(gesAlphaClump), disk: diskAlpha.concat(diskAlphaClump), dens: densityAlpha, top: 21.7, bottom: 357, yMin: -0.294, yMax: 0.702, yTicks: alphaTicks },
  { id: 'panelB', nyx: nyxMg, ges: gesMg.concat(gesMgClump), disk: diskMg.concat(diskMgClump), dens: densityMg, top: 357, bottom: 689.7, yMin: -0.388, yMax: 0.70, yTicks: mgTicks },
  { id: 'panelC', nyx: nyxNi, ges: gesNi.concat(gesNiClump), disk: diskNi.concat(diskNiClump), dens: densityNi, top: 689.7, bottom: 1024.5, yMin: -0.591, yMax: 0.605, yTicks: niTicks },
  { id: 'panelD', nyx: nyxNa, ges: gesNa.concat(gesNaClump), disk: diskNa.concat(diskNaClump), dens: densityNa, top: 1024.5, bottom: 1361, yMin: -0.703, yMax: 0.804, yTicks: naTicks }
];
const PAGE_H = 1457, AXIS_W = 129, RIGHT_PAD = 24.3, TICK_LEN = 14;
const R_NYX = 5.8, R_STAR = 5.2;

panels.forEach((p, idx) => {
  const isLast = idx === panels.length - 1;
  const img = makeDensityImage(p.dens);
  const gridTop = densityTop[idx];
  const plugin = {
    id: 'abund' + idx,
    beforeDatasetsDraw(chart) {
      const { ctx, chartArea: a, scales: { x, y } } = chart;
      ctx.save();
      ctx.beginPath(); ctx.rect(a.left, a.top, a.right - a.left, a.bottom - a.top); ctx.clip();
      ctx.imageSmoothingEnabled = true;
      ctx.filter = 'blur(4px)';
      const x0 = x.getPixelForValue(densityFeHStart), x1 = x.getPixelForValue(densityFeHStart + img.w * densityFeHStep);
      const y0 = y.getPixelForValue(gridTop), y1 = y.getPixelForValue(gridTop - img.h * densityYStep);
      ctx.drawImage(img.canvas, x0, y0, x1 - x0, y1 - y0);
      ctx.filter = 'none';
      ctx.restore();
    },
    afterDatasetsDraw(chart) {
      const { ctx, chartArea: a, scales: { x, y } } = chart;
      ctx.save();
      ctx.strokeStyle = '#000'; ctx.lineWidth = 2;
      ctx.beginPath();
      feHTicks.forEach(v => { const px = x.getPixelForValue(v); ctx.moveTo(px, a.bottom); ctx.lineTo(px, a.bottom - TICK_LEN); });
      p.yTicks.forEach(v => { const py = y.getPixelForValue(v); ctx.moveTo(a.left, py); ctx.lineTo(a.left + TICK_LEN, py); });
      ctx.stroke();
      ctx.lineWidth = 2.2;
      ctx.strokeRect(a.left, a.top, a.right - a.left, a.bottom - a.top);
      ctx.fillStyle = '#000';
      ctx.font = '23px ' + FONT;
      ctx.textAlign = 'right'; ctx.textBaseline = 'middle';
      ctx.fillText(panelTags[idx], a.right - 13, a.top + 27);
      if (isLast) {
        const bx = a.left + 11.7, by = a.top + 12.5, bw = 203, bh = 110;
        roundRectPath(ctx, bx, by, bw, bh, 6);
        ctx.fillStyle = 'rgba(255,255,255,0.8)'; ctx.fill();
        ctx.lineWidth = 1.5; ctx.strokeStyle = '#cccccc'; ctx.stroke();
        const entries = [
          { label: seriesNames[0], color: COLORS.nyx, r: 5.5, my: 20, ty: 19 },
          { label: seriesNames[1], color: COLORS.disk, r: 4.6, my: 54, ty: 53 },
          { label: seriesNames[2], color: COLORS.ges, r: 4.6, my: 89, ty: 88 }
        ];
        ctx.font = '23px ' + FONT; ctx.textAlign = 'left'; ctx.textBaseline = 'middle';
        entries.forEach(e => {
          ctx.beginPath(); ctx.arc(bx + 32, by + e.my, e.r, 0, Math.PI * 2);
          ctx.fillStyle = e.color; ctx.fill();
          ctx.fillStyle = '#000'; ctx.fillText(e.label, bx + 74, by + e.ty);
        });
      }
      ctx.restore();
    }
  };
  new Chart(document.getElementById(p.id), {
    type: 'scatter',
    data: {
      datasets: [
        { label: seriesNames[0], data: nyxPts(p.nyx), backgroundColor: COLORS.nyx, pointRadius: R_NYX, pointBorderWidth: 0, pointHoverRadius: R_NYX, order: 0 },
        { label: seriesNames[2], data: toPts(p.ges), backgroundColor: COLORS.ges, pointRadius: R_STAR, pointBorderWidth: 0, pointHoverRadius: R_STAR, order: 1 },
        { label: seriesNames[1], data: toPts(p.disk), backgroundColor: COLORS.disk, pointRadius: R_STAR, pointBorderWidth: 0, pointHoverRadius: R_STAR, order: 2 }
      ]
    },
    options: {
      responsive: false, animation: false, maintainAspectRatio: false,
      events: [],
      layout: { padding: { top: p.top, bottom: isLast ? 0 : PAGE_H - p.bottom, left: 0, right: RIGHT_PAD } },
      plugins: { legend: { display: false }, tooltip: { enabled: false } },
      scales: {
        x: {
          type: 'linear', min: -2.5, max: 0.8, display: isLast,
          afterBuildTicks: s => { s.ticks = feHTicks.map(v => ({ value: v })); },
          afterFit: s => { if (isLast) s.height = PAGE_H - p.bottom; },
          grid: { display: false, drawTicks: false }, border: { display: false },
          ticks: { font: { size: 23 }, padding: 8, color: '#000', maxRotation: 0, autoSkip: false, callback: v => fmt(v, 0) },
          title: { display: true, text: '[Fe/H]', font: { size: 25 }, color: '#000', padding: { top: 0, bottom: 22 } }
        },
        y: {
          type: 'linear', min: p.yMin, max: p.yMax,
          afterBuildTicks: s => { s.ticks = p.yTicks.map(v => ({ value: v })); },
          afterFit: s => { s.width = AXIS_W; },
          grid: { display: false, drawTicks: false }, border: { display: false },
          ticks: { font: { size: 23 }, padding: 11, color: '#000', autoSkip: false, callback: v => fmt(v, 1) },
          title: { display: true, text: yLabels[idx], font: { size: 25 }, color: '#000', padding: { top: 19, bottom: 0 } }
        }
      }
    },
    plugins: [plugin]
  });
});
</script>
</body>
</html>
